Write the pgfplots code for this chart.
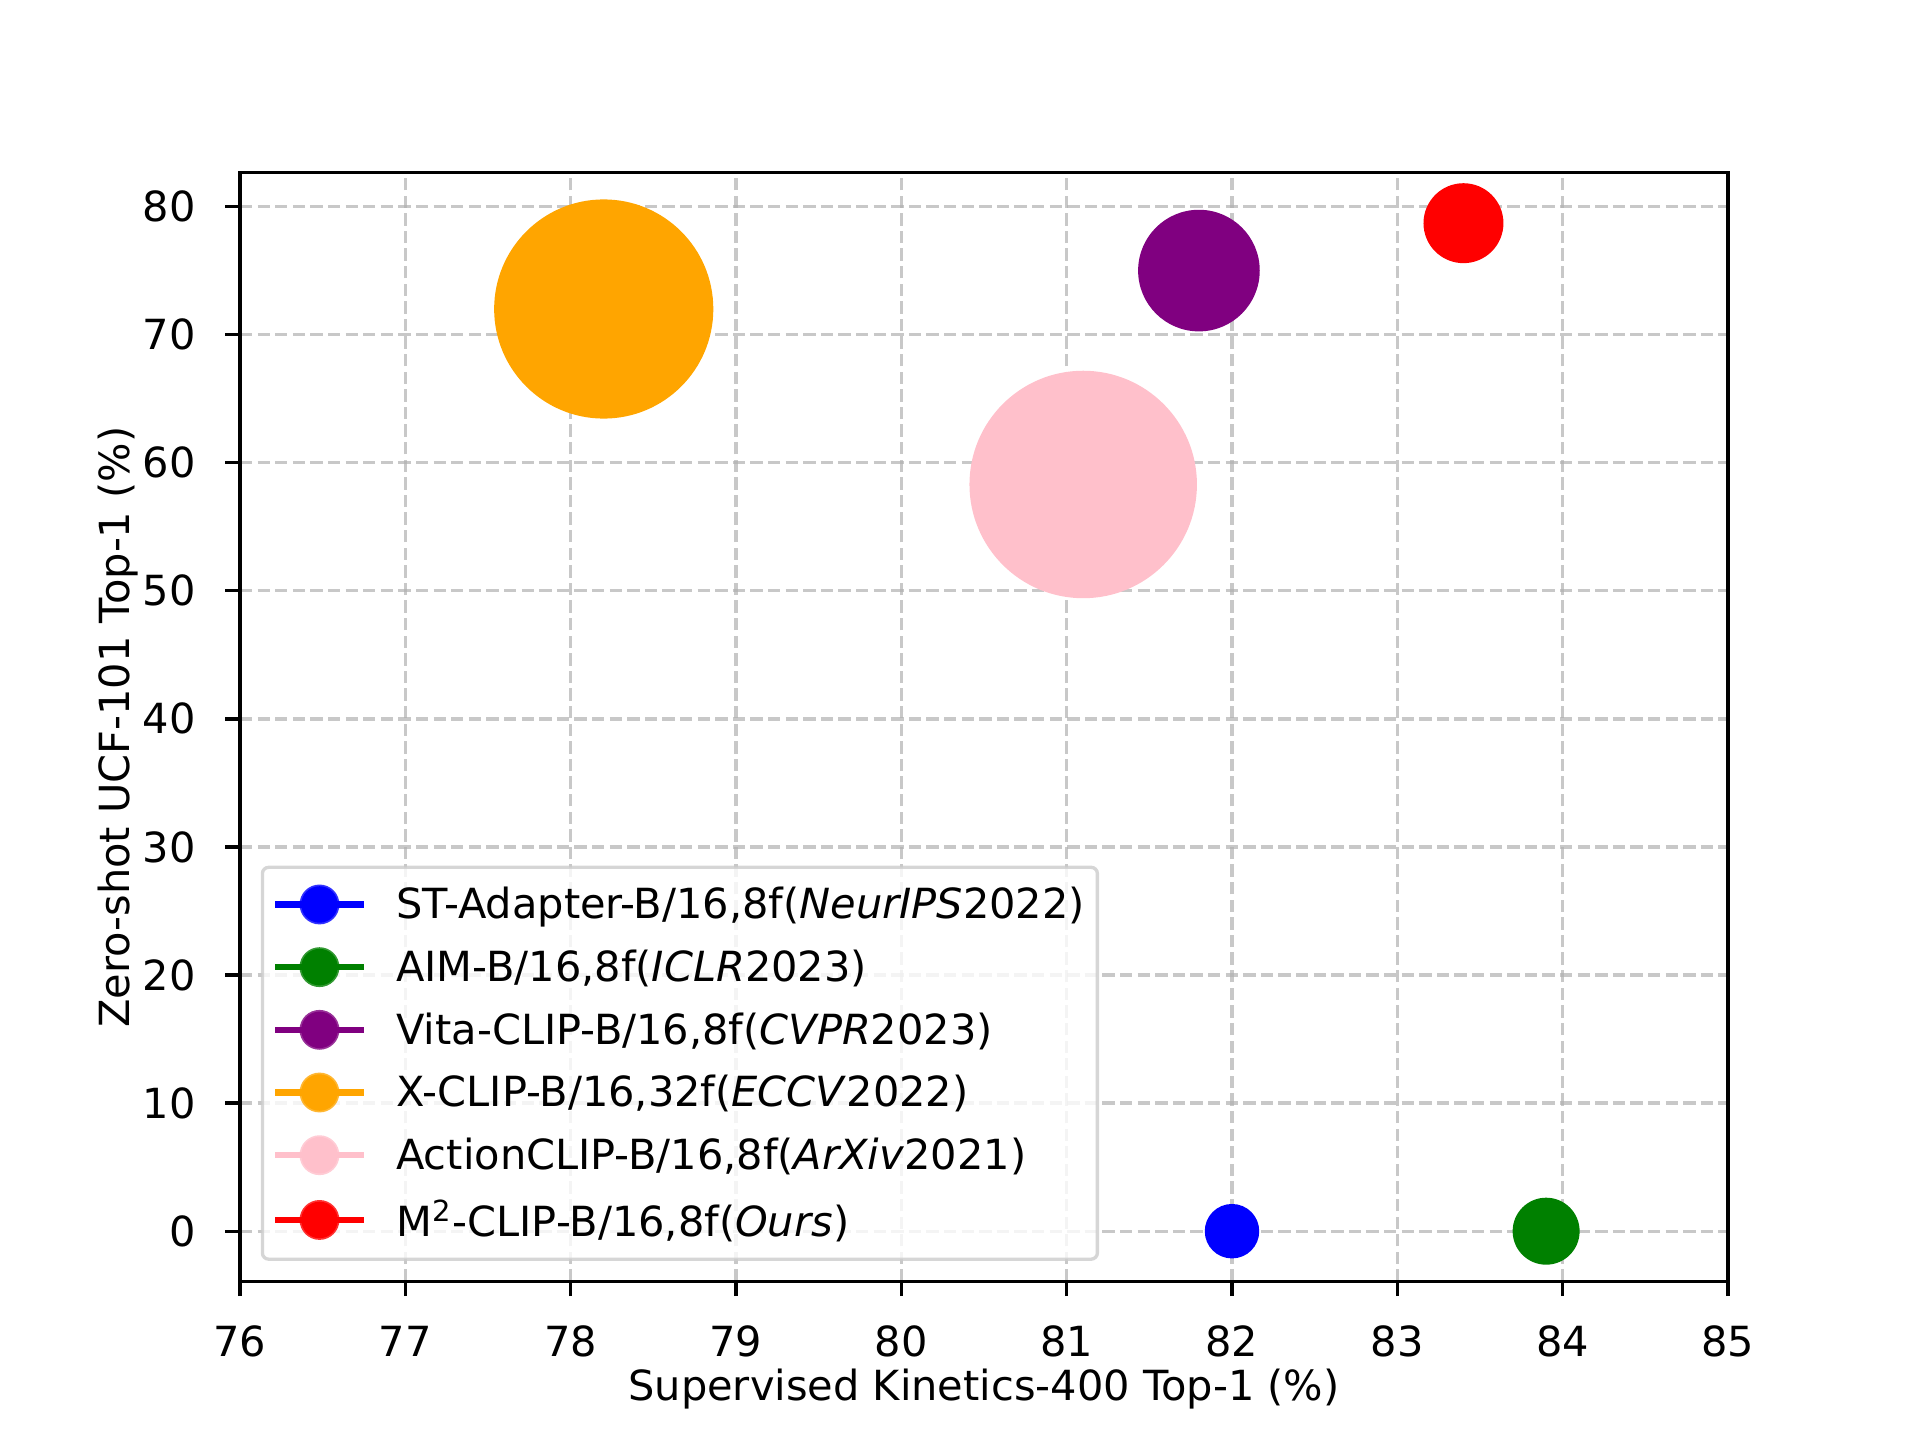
\documentclass[border=0pt]{standalone}
\usepackage{fontspec}
\setmainfont{DejaVu Sans}
\usepackage{pgfplots}
\pgfplotsset{compat=1.18}
\definecolor{mgrid}{HTML}{B0B0B0}
\definecolor{mframe}{HTML}{CCCCCC}
\definecolor{mblue}{HTML}{0000FF}
\definecolor{mgreen}{HTML}{008000}
\definecolor{mpurple}{HTML}{800080}
\definecolor{morange}{HTML}{FFA500}
\definecolor{mpink}{HTML}{FFC0CB}
\definecolor{mred}{HTML}{FF0000}
\newcommand\lstrut{\rule[-2.4pt]{0pt}{10.8pt}}
\newcommand\lstrutb{\rule[-2.4pt]{0pt}{11.8pt}}
\pgfplotsset{
  myleg/.style={legend image code/.code={
    \draw[line width=1.5pt, line cap=rect, draw opacity=1] (0pt,0pt) -- (20pt,0pt);
    \fill[fill opacity=1] (10pt,0pt) circle (4.4pt);}},
}
\begin{document}
\begin{tikzpicture}
\useasboundingbox (-0.8in,-0.528in) rectangle (5.6in,4.272in);
\begin{axis}[
  at={(0,0)}, anchor=south west,
  scale only axis, width=4.96in, height=3.696in,
  xmin=76, xmax=85, ymin=-3.935, ymax=82.635,
  xtick={76,77,...,85}, ytick={0,10,...,80},
  tick pos=left, tick align=outside,
  major tick length=3.5pt,
  every tick/.style={black, line width=0.8pt},
  axis line style={black, line width=0.8pt},
  /pgf/number format/assume math mode=true,
  tick label style={font=\fontsize{10}{12}\selectfont},
  xticklabel style={anchor=north, inner sep=0pt, yshift=-7pt},
  yticklabel style={anchor=east, inner sep=0pt, xshift=-7pt},
  grid=major,
  major grid style={color=mgrid, draw opacity=0.7, line width=0.8pt, dash pattern=on 2.96pt off 1.28pt},
  axis on top,
  label style={font=\fontsize{10}{12}\selectfont},
  xlabel={Supervised Kinetics-400 Top-1 (\%)},
  ylabel={Zero-shot UCF-101 Top-1 (\%)},
  every axis x label/.style={at={(axis description cs:0.5,0)}, anchor=base, yshift=-28.6pt},
  every axis y label/.style={at={(axis description cs:0,0.5)}, xshift=-26.5pt, rotate=90, anchor=base},
  legend cell align=left,
  legend style={
    at={(axis description cs:0,0)}, anchor=south west, xshift=5pt, yshift=5pt,
    font=\fontsize{10}{12}\selectfont,
    draw=mframe, draw opacity=0.8, fill=white, fill opacity=0.8, text opacity=1,
    line width=0.8pt, rounded corners=1.5pt,
    inner xsep=3pt, inner ysep=4pt,
    row sep=5.2pt, column sep=0pt,
    nodes={inner sep=0pt},
    /tikz/every odd column/.append style={column sep=7.75pt},
  },
]
\addplot[only marks, mark=*, color=mblue, mark size=6.36pt, mark options={draw=none}, myleg] coordinates {(82.0,0)};
\addlegendentry{\lstrut ST-Adapter-B/16,8f(\textit{NeurIPS}2022)}
\addplot[only marks, mark=*, color=mgreen, mark size=7.87pt, mark options={draw=none}, myleg] coordinates {(83.9,0)};
\addlegendentry{\lstrut AIM-B/16,8f(\textit{ICLR}2023)}
\addplot[only marks, mark=*, color=mpurple, mark size=14.45pt, mark options={draw=none}, myleg] coordinates {(81.8,75.0)};
\addlegendentry{\lstrut Vita-CLIP-B/16,8f(\textit{CVPR}2023)}
\addplot[only marks, mark=*, color=morange, mark size=26.2pt, mark options={draw=none}, myleg] coordinates {(78.2,72.0)};
\addlegendentry{\lstrut X-CLIP-B/16,32f(\textit{ECCV}2022)}
\addplot[only marks, mark=*, color=mpink, mark size=27.2pt, mark options={draw=none}, myleg] coordinates {(81.1,58.3)};
\addlegendentry{\lstrut ActionCLIP-B/16,8f(\textit{ArXiv}2021)}
\addplot[only marks, mark=*, color=mred, mark size=9.43pt, mark options={draw=none}, myleg] coordinates {(83.4,78.7)};
\addlegendentry{\lstrutb M\textsuperscript{2}-CLIP-B/16,8f(\textit{Ours})}
\end{axis}
\end{tikzpicture}
\end{document}
